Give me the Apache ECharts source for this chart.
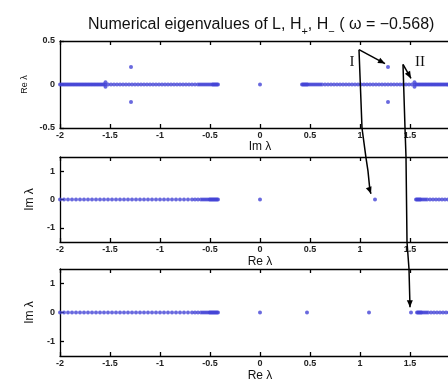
<!DOCTYPE html>
<html><head><meta charset="utf-8">
<script src="https://cdn.jsdelivr.net/npm/echarts@6/dist/echarts.min.js"></script>
<style>html,body{margin:0;padding:0;background:#fff}#c{width:448px;height:382px}</style>
</head><body><div id="c"></div>
<script>
// ---- data ----
const xTickRange = [-2, 2];
// Panel 1: L eigenvalues (x: Im λ, y: Re λ)
const L_axis = [-2.000,-1.985,-1.970,-1.955,-1.940,-1.925,-1.910,-1.895,-1.880,-1.865,-1.850,-1.835,-1.820,-1.805,-1.790,-1.775,-1.760,-1.745,-1.730,-1.715,-1.700,-1.685,-1.670,-1.655,-1.640,-1.625,-1.610,-1.595,-1.580,-1.565,-1.550,
 -1.52,-1.49,-1.46,-1.43,-1.40,-1.37,-1.34,-1.31,-1.28,-1.25,-1.22,-1.19,-1.16,-1.13,-1.10,-1.07,-1.04,-1.01,-0.98,-0.95,-0.92,-0.89,-0.86,-0.83,-0.80,-0.77,-0.74,-0.71,-0.68,-0.65,-0.62,-0.60,-0.58,-0.56,-0.54,-0.52,-0.50,-0.48,-0.47,-0.46,-0.45,-0.44,-0.43,-0.42,
 0,
 0.42,0.43,0.44,0.45,0.46,0.47,0.48,0.50,0.52,0.54,0.56,0.58,0.60,0.62,0.65,0.68,0.71,0.74,0.77,0.80,0.83,0.86,0.89,0.92,0.95,0.98,1.01,1.04,1.07,1.10,1.13,1.16,1.19,1.22,1.25,1.28,1.31,1.34,1.37,1.40,1.43,1.46,1.49,1.52,
 1.550,1.565,1.580,1.595,1.610,1.625,1.640,1.655,1.670,1.685,1.700,1.715,1.730,1.745,1.760,1.775,1.790,1.805,1.820,1.835,1.850,1.865,1.880,1.895,1.910,1.925,1.940,1.955,1.970,1.985,2.000];
const L_offX = [-1.29,-1.29,-1.545,-1.545,1.545,1.545,1.28,1.28];
const L_offY = [0.20,-0.20,0.025,-0.025,0.025,-0.025,0.20,-0.20];
// Panel 2: H+ eigenvalues (x: Re λ, y: Im λ)
const Hp_axis = [-2.00,-1.96,-1.92,-1.88,-1.84,-1.80,-1.76,-1.72,-1.68,-1.64,-1.60,-1.56,-1.52,-1.48,-1.44,-1.40,-1.36,-1.32,-1.28,-1.24,-1.20,-1.16,-1.12,-1.08,-1.04,-1.00,-0.96,-0.92,-0.88,-0.84,-0.80,-0.76,-0.72,-0.68,-0.65,-0.62,-0.59,-0.57,-0.55,-0.53,-0.51,-0.50,-0.49,-0.48,-0.47,-0.46,-0.45,-0.44,-0.43,-0.42,
 0, 1.15,
 1.56,1.57,1.58,1.59,1.60,1.61,1.63,1.65,1.67,1.70,1.73,1.76,1.79,1.82,1.85,1.88,1.92,1.96,2.00];
// Panel 3: H- eigenvalues (x: Re λ, y: Im λ)
const Hm_axis = [-2.00,-1.96,-1.92,-1.88,-1.84,-1.80,-1.76,-1.72,-1.68,-1.64,-1.60,-1.56,-1.52,-1.48,-1.44,-1.40,-1.36,-1.32,-1.28,-1.24,-1.20,-1.16,-1.12,-1.08,-1.04,-1.00,-0.96,-0.92,-0.88,-0.84,-0.80,-0.76,-0.72,-0.68,-0.65,-0.62,-0.59,-0.57,-0.55,-0.53,-0.51,-0.50,-0.49,-0.48,-0.47,-0.46,-0.45,-0.44,-0.43,-0.42,
 0, 0.47, 1.09, 1.51,
 1.57,1.58,1.59,1.60,1.61,1.62,1.64,1.66,1.68,1.71,1.74,1.77,1.80,1.83,1.86,1.89,1.93,1.97,2.00];
const xNames = ['Im λ', 'Re λ', 'Re λ'];
const yNames = ['Re λ', 'Im λ', 'Im λ'];
const yRanges = [[-0.5, 0.5], [-1.5, 1.5], [-1.5, 1.5]];
const yLabelVals = [[-0.5, 0, 0.5], [-1, 0, 1], [-1, 0, 1]];
const titleText = 'Numerical eigenvalues of L, H{s|+}, H{s|−} ( ω = −0.568)';

// annotation paths, in data coordinates [gridIndex, x, y]
const annoLong = [
  [[0,0.99,0.40],[0,1.02,-0.5],[1,1.06,1.47],[1,1.08,1.0],[1,1.10,0.30],[1,1.11,0.20]],
  [[0,1.43,0.23],[0,1.45,-0.5],[1,1.46,1.5],[1,1.47,-1.5],[2,1.49,1.5],[2,1.50,0.18]]
];
const annoShort = [
  [[0,0.99,0.40],[0,1.25,0.24]],
  [[0,1.43,0.23],[0,1.51,0.07]]
];
const annoLabels = [['I',0,0.92,0.26],['II',0,1.60,0.26]];

// ---- chart ----
const chart = echarts.init(document.getElementById('c'), null, {renderer:'canvas'});
const grids = [
  {left:60, width:400, top:41, height:87, outerBoundsMode:'none', containLabel:false},
  {left:60, width:400, top:157, height:85, outerBoundsMode:'none', containLabel:false},
  {left:60, width:400, top:269, height:87, outerBoundsMode:'none', containLabel:false}
];
const blue = '#4444d6';
const lbl = {fontSize:9, color:'#222', fontFamily:'Liberation Sans, Arial', fontWeight:'bold'};
const xAxes = [], yAxes = [], series = [];
for (let i = 0; i < 3; i++) {
  xAxes.push({gridIndex:i, type:'value', min:xTickRange[0], max:xTickRange[1], interval:0.5, position:'bottom',
    axisLine:{onZero:false, lineStyle:{color:'#000', width:1.3}},
    axisTick:{inside:true, length:4, lineStyle:{color:'#000', width:1.3}},
    axisLabel:Object.assign({margin:3}, lbl),
    splitLine:{show:false},
    name:xNames[i], nameLocation:'middle', nameGap:i===0?13:14,
    nameTextStyle:{fontSize:12, color:'#111', fontFamily:'Liberation Sans, Arial'}});
  xAxes.push({gridIndex:i, type:'value', min:xTickRange[0], max:xTickRange[1], interval:0.5, position:'top',
    axisLine:{onZero:false, lineStyle:{color:'#000', width:1.3}},
    axisTick:{inside:true, length:4, lineStyle:{color:'#000', width:1.3}},
    axisLabel:{show:false}, splitLine:{show:false}});
  yAxes.push({gridIndex:i, type:'value', min:yRanges[i][0], max:yRanges[i][1],
    axisLine:{onZero:false, lineStyle:{color:'#000', width:1.3}},
    axisTick:{inside:true, length:4, customValues:yLabelVals[i], lineStyle:{color:'#000', width:1.3}},
    axisLabel:Object.assign({margin:5, customValues:yLabelVals[i], showMinLabel:true, showMaxLabel:true}, lbl),
    splitLine:{show:false},
    name:yNames[i], nameLocation:'middle', nameGap:i===0?31:24, nameRotate:90,
    nameTextStyle:{fontSize:i===0?9:12, color:'#111', fontFamily:'Liberation Sans, Arial'}});
}
function pts(xs, ys){ return xs.map((x,k)=>[x, ys ? ys[k] : 0]); }
const sets = [
  [pts(L_axis), pts(L_offX, L_offY)],
  [pts(Hp_axis)],
  [pts(Hm_axis)]
];
sets.forEach((arr, i) => arr.forEach(d => series.push({
  type:'scatter', xAxisIndex:2*i, yAxisIndex:i, data:d, symbol:'circle', symbolSize:4,
  itemStyle:{color:blue}, silent:true, animation:false
})));

chart.setOption({
  animation:false,
  title:{text:titleText, left:83, top:8,
    textStyle:{fontSize:16, fontWeight:'normal', color:'#111', fontFamily:'Liberation Sans, Arial',
      rich:{s:{fontSize:11, color:'#111', padding:[13,0,0,0], fontFamily:'Liberation Sans, Arial'}}}},
  grid:grids, xAxis:xAxes, yAxis:yAxes, series:series
});

function px(p){ return chart.convertToPixel({gridIndex:p[0]}, [p[1], p[2]]); }
function head(tip, from, len, hw){
  const dx = tip[0]-from[0], dy = tip[1]-from[1], d = Math.hypot(dx,dy)||1;
  const ux = dx/d, uy = dy/d;
  const bx = tip[0]-ux*len, by = tip[1]-uy*len;
  return [tip, [bx - uy*hw, by + ux*hw], [bx + uy*hw, by - ux*hw]];
}
const g = [];
annoLong.concat(annoShort).forEach(path => {
  const p = path.map(px);
  g.push({type:'polyline', shape:{points:p}, style:{stroke:'#000', lineWidth:1.5, fill:null}, z:100});
  const tip = p[p.length-1], from = p[p.length-2];
  g.push({type:'polygon', shape:{points:head(tip, from, 7, 3)}, style:{fill:'#000'}, z:100});
});
annoLabels.forEach(a => {
  const p = px([a[1], a[2], a[3]]);
  g.push({type:'text', x:p[0], y:p[1], style:{text:a[0], fill:'#111', font:'15px "Liberation Serif", "Times New Roman", serif', textAlign:'center', textVerticalAlign:'middle'}, z:100});
});
chart.setOption({graphic:g});
</script>
</body></html>
